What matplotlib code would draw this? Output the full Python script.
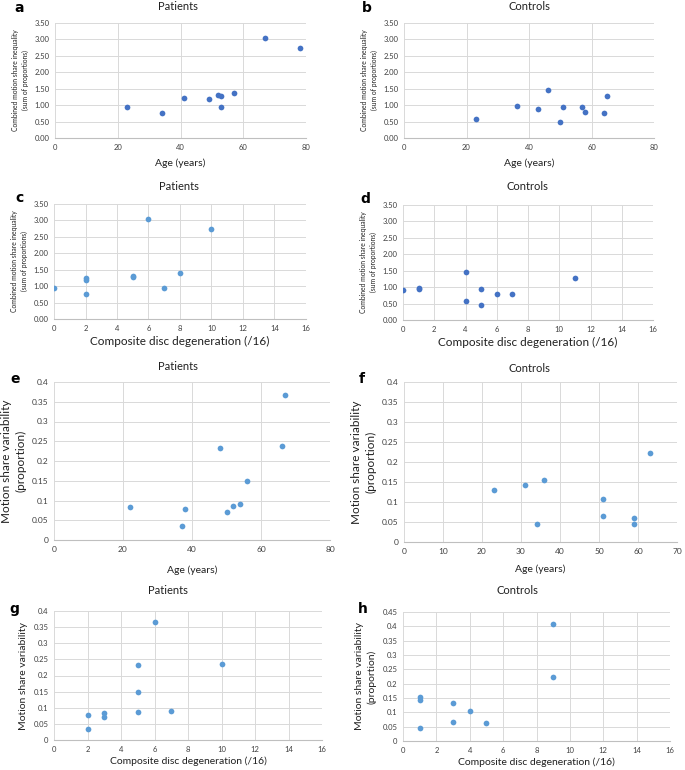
import matplotlib
matplotlib.use('Agg')
import matplotlib.pyplot as plt

plt.rcParams['font.family'] = ['Lato', 'DejaVu Sans']

DARK = '#4472C4'
LIGHT = '#5B9BD5'
GRID = '#D9D9D9'

# ---- data ----
pat_age_a = [23, 34, 41, 49, 52, 53, 53, 57, 67, 78]
pat_ineq_a = [0.93, 0.77, 1.23, 1.20, 1.30, 1.28, 0.95, 1.38, 3.03, 2.75]

ctl_age_b = [23, 36, 43, 46, 50, 51, 57, 58, 64, 65]
ctl_ineq_b = [0.58, 0.98, 0.89, 1.47, 0.48, 0.93, 0.94, 0.79, 0.77, 1.29]

pat_disc_c = [0, 2, 2, 2, 5, 5, 6, 7, 8, 10]
pat_ineq_c = [0.93, 0.77, 1.20, 1.24, 1.28, 1.30, 3.03, 0.95, 1.39, 2.75]

ctl_disc_d = [0, 1, 1, 4, 4, 5, 5, 6, 7, 11]
ctl_ineq_d = [0.90, 0.95, 0.98, 1.47, 0.57, 0.93, 0.47, 0.79, 0.78, 1.29]

pat_age_e = [22, 37, 38, 48, 50, 52, 54, 56, 66, 67]
pat_var_e = [0.083, 0.035, 0.078, 0.232, 0.070, 0.086, 0.092, 0.150, 0.237, 0.367]

ctl_age_f = [23, 31, 34, 36, 51, 51, 59, 59, 63]
ctl_var_f = [0.131, 0.143, 0.044, 0.155, 0.107, 0.066, 0.061, 0.046, 0.223]

pat_disc_g = [2, 2, 3, 3, 5, 5, 5, 6, 7, 10]
pat_var_g = [0.078, 0.035, 0.085, 0.071, 0.232, 0.150, 0.086, 0.366, 0.091, 0.237]

ctl_disc_h = [1, 1, 1, 3, 3, 4, 5, 9, 9]
ctl_var_h = [0.155, 0.143, 0.047, 0.132, 0.066, 0.106, 0.062, 0.409, 0.223]

W, H = 685, 770
fig = plt.figure(figsize=(W / 100, H / 100), dpi=100)

def box(l, t, r, b):
    return [l / W, 1 - b / H, (r - l) / W, (b - t) / H]

def panel(rect, x, y, color, xlim, xstep, ylim, ystep, yfmt, title, letter,
          xlabel, ylabel, tick_fs=5.5, title_fs=8, xl_fs=7.5, yl_fs=8,
          title_y=None, letter_xy=None, xl_pad=4, yl_pad=4):
    ax = fig.add_axes(box(*rect))
    ax.scatter(x, y, s=17, color=color, zorder=3, linewidths=0)
    ax.set_xlim(*xlim); ax.set_ylim(*ylim)
    xt = [xlim[0] + i * xstep for i in range(int(round((xlim[1] - xlim[0]) / xstep)) + 1)]
    yt = [ylim[0] + i * ystep for i in range(int(round((ylim[1] - ylim[0]) / ystep)) + 1)]
    ax.set_xticks(xt); ax.set_yticks(yt)
    ax.set_xticklabels([f'{v:g}' for v in xt])
    ax.set_yticklabels([yfmt(v) for v in yt])
    ax.grid(True, color=GRID, lw=0.7, zorder=0)
    for s in ('top', 'right', 'left'):
        ax.spines[s].set_visible(False)
    ax.spines['bottom'].set_color('#BFBFBF'); ax.spines['bottom'].set_linewidth(0.8)
    ax.tick_params(length=0, labelsize=tick_fs, colors='#404040', pad=4)
    ax.set_xlabel(xlabel, fontsize=xl_fs, color='#202020', labelpad=xl_pad)
    ax.set_ylabel(ylabel, fontsize=yl_fs, color='#202020', labelpad=yl_pad,
                  linespacing=1.4)
    fig.text(title_y[0] / W, 1 - title_y[1] / H, title, fontsize=title_fs,
             ha='center', va='center', color='#202020')
    fig.text(letter_xy[0] / W, 1 - letter_xy[1] / H, letter, fontsize=10,
             fontweight='bold', ha='center', va='center', family='DejaVu Sans')
    return ax

f2 = lambda v: f'{v:.2f}'
fg = lambda v: f'{round(v, 2):g}'
ineq_lab = 'Combined motion share inequality\n(sum of proportions)'

panel((55, 23, 306, 138), pat_age_a, pat_ineq_a, DARK, (0, 80), 20, (0, 3.5), 0.5, f2,
      'Patients', 'a', 'Age (years)', ineq_lab, yl_fs=4.9,
      title_y=(178, 6), letter_xy=(19, 8), xl_fs=7.5, xl_pad=6)
panel((404, 23, 654, 138), ctl_age_b, ctl_ineq_b, DARK, (0, 80), 20, (0, 3.5), 0.5, f2,
      'Controls', 'b', 'Age (years)', ineq_lab, yl_fs=4.9,
      title_y=(529, 6), letter_xy=(367, 8), xl_fs=7.5, xl_pad=6)
panel((54, 204, 306, 319), pat_disc_c, pat_ineq_c, LIGHT, (0, 16), 2, (0, 3.5), 0.5, f2,
      'Patients', 'c', 'Composite disc degeneration (/16)', ineq_lab, yl_fs=4.9,
      title_y=(179, 186), letter_xy=(19, 198), xl_fs=8.5, xl_pad=3)
panel((403, 205, 653, 320), ctl_disc_d, ctl_ineq_d, DARK, (0, 16), 2, (0, 3.5), 0.5, f2,
      'Controls', 'd', 'Composite disc degeneration (/16)', ineq_lab, yl_fs=4.9,
      title_y=(527, 187), letter_xy=(365, 199), xl_fs=8.5, xl_pad=3)
panel((54, 382, 330, 540), pat_age_e, pat_var_e, LIGHT, (0, 80), 20, (0, 0.4), 0.05, fg,
      'Patients', 'e', 'Age (years)', 'Motion share variability\n(proportion)',
      tick_fs=6, title_y=(178, 367), letter_xy=(15, 379), xl_fs=7.5, yl_fs=8.5, xl_pad=9)
panel((404, 382, 677, 542), ctl_age_f, ctl_var_f, LIGHT, (0, 70), 10, (0, 0.4), 0.05, fg,
      'Controls', 'f', 'Age (years)', 'Motion share variability\n(proportion)',
      tick_fs=6, title_y=(529, 369), letter_xy=(362, 379), xl_fs=7.5, yl_fs=8.5, xl_pad=7)
panel((54, 611, 322, 740), pat_disc_g, pat_var_g, LIGHT, (0, 16), 2, (0, 0.4), 0.05, fg,
      'Patients', 'g', 'Composite disc degeneration (/16)', 'Motion share variability',
      tick_fs=5.5, title_y=(168, 591), letter_xy=(14, 609), xl_fs=7.5, yl_fs=7.5, xl_pad=3)
panel((403, 612, 670, 741), ctl_disc_h, ctl_var_h, LIGHT, (0, 16), 2, (0, 0.45), 0.05, fg,
      'Controls', 'h', 'Composite disc degeneration (/16)',
      'Motion share variability\n(proportion)', tick_fs=5.5, title_y=(517, 591),
      letter_xy=(363, 609), xl_fs=7.5, yl_fs=7.5, xl_pad=3)

fig.savefig('out.png', dpi=100)
